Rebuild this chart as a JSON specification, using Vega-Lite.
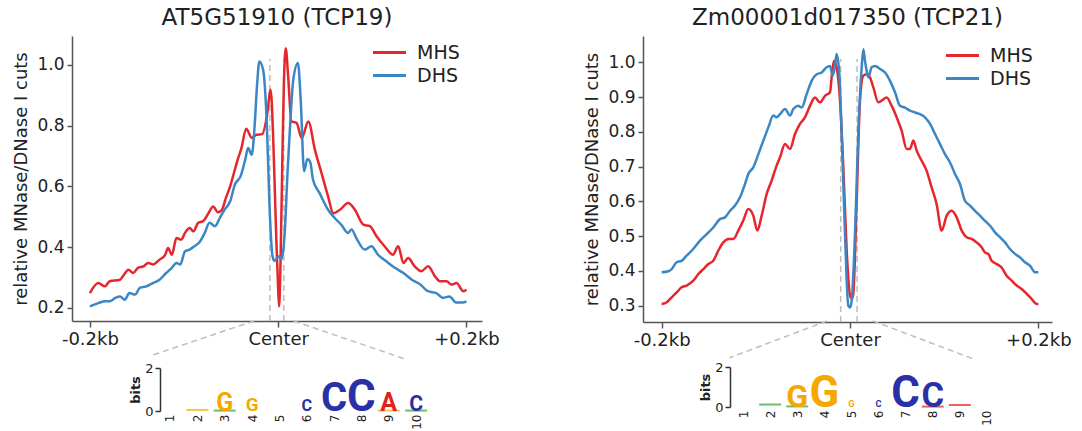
{
 "$schema": "https://vega.github.io/schema/vega-lite/v6.json",
 "background": "white",
 "padding": {"left": 12, "top": 7, "right": 5, "bottom": 0},
 "config": {
  "view": {"stroke": null},
  "font": "DejaVu Sans",
  "axis": {"grid": false, "domainColor": "#555", "domainWidth": 1.5, "tickColor": "#555", "tickWidth": 1.5, "labelColor": "#222", "titleColor": "#222", "titleFontWeight": "normal", "labelFont": "DejaVu Sans", "titleFont": "DejaVu Sans", "labelFlush": false, "labelOverlap": false},
  "title": {"font": "DejaVu Sans", "fontWeight": "normal", "color": "#222"},
  "legend": {"labelFont": "DejaVu Sans", "labelColor": "#222"}
 },
 "datasets": {
  "tcp19": [
   {"x": -200, "v": 0.249, "s": "MHS"}, {"x": -191, "v": 0.282, "s": "MHS"}, {"x": -184, "v": 0.271, "s": "MHS"}, {"x": -179, "v": 0.288, "s": "MHS"}, {"x": -168, "v": 0.293, "s": "MHS"}, {"x": -165, "v": 0.304, "s": "MHS"}, {"x": -159, "v": 0.326, "s": "MHS"}, {"x": -154, "v": 0.315, "s": "MHS"}, {"x": -149, "v": 0.332, "s": "MHS"}, {"x": -143, "v": 0.337, "s": "MHS"}, {"x": -138, "v": 0.348, "s": "MHS"}, {"x": -133, "v": 0.343, "s": "MHS"}, {"x": -126, "v": 0.359, "s": "MHS"}, {"x": -120, "v": 0.375, "s": "MHS"}, {"x": -117, "v": 0.397, "s": "MHS"}, {"x": -113, "v": 0.375, "s": "MHS"}, {"x": -108, "v": 0.43, "s": "MHS"}, {"x": -103, "v": 0.425, "s": "MHS"}, {"x": -99, "v": 0.447, "s": "MHS"}, {"x": -94, "v": 0.463, "s": "MHS"}, {"x": -90, "v": 0.452, "s": "MHS"}, {"x": -85, "v": 0.48, "s": "MHS"}, {"x": -80, "v": 0.485, "s": "MHS"}, {"x": -74, "v": 0.512, "s": "MHS"}, {"x": -69, "v": 0.534, "s": "MHS"}, {"x": -64, "v": 0.515, "s": "MHS"}, {"x": -60, "v": 0.522, "s": "MHS"}, {"x": -55, "v": 0.567, "s": "MHS"}, {"x": -51, "v": 0.6, "s": "MHS"}, {"x": -48, "v": 0.633, "s": "MHS"}, {"x": -43, "v": 0.688, "s": "MHS"}, {"x": -39, "v": 0.726, "s": "MHS"}, {"x": -34, "v": 0.79, "s": "MHS"}, {"x": -28, "v": 0.76, "s": "MHS"}, {"x": -23, "v": 0.77, "s": "MHS"}, {"x": -17, "v": 0.772, "s": "MHS"}, {"x": -12, "v": 0.83, "s": "MHS"}, {"x": -8, "v": 0.918, "s": "MHS"}, {"x": -5.3, "v": 0.76, "s": "MHS"}, {"x": -3.5, "v": 0.58, "s": "MHS"}, {"x": -1.8, "v": 0.41, "s": "MHS"}, {"x": 0, "v": 0.26, "s": "MHS"}, {"x": 1, "v": 0.205, "s": "MHS"}, {"x": 2.5, "v": 0.35, "s": "MHS"}, {"x": 4.5, "v": 0.7, "s": "MHS"}, {"x": 6, "v": 0.93, "s": "MHS"}, {"x": 8, "v": 1.055, "s": "MHS"}, {"x": 10.6, "v": 0.962, "s": "MHS"}, {"x": 14, "v": 0.814, "s": "MHS"}, {"x": 19.5, "v": 0.809, "s": "MHS"}, {"x": 25, "v": 0.759, "s": "MHS"}, {"x": 32, "v": 0.814, "s": "MHS"}, {"x": 39, "v": 0.721, "s": "MHS"}, {"x": 46, "v": 0.644, "s": "MHS"}, {"x": 53, "v": 0.567, "s": "MHS"}, {"x": 58.5, "v": 0.512, "s": "MHS"}, {"x": 65.6, "v": 0.523, "s": "MHS"}, {"x": 74.4, "v": 0.545, "s": "MHS"}, {"x": 81.5, "v": 0.523, "s": "MHS"}, {"x": 90.4, "v": 0.474, "s": "MHS"}, {"x": 97.4, "v": 0.469, "s": "MHS"}, {"x": 104.5, "v": 0.436, "s": "MHS"}, {"x": 113, "v": 0.403, "s": "MHS"}, {"x": 122, "v": 0.375, "s": "MHS"}, {"x": 127.5, "v": 0.403, "s": "MHS"}, {"x": 133, "v": 0.348, "s": "MHS"}, {"x": 138, "v": 0.364, "s": "MHS"}, {"x": 145, "v": 0.337, "s": "MHS"}, {"x": 152, "v": 0.321, "s": "MHS"}, {"x": 159.4, "v": 0.337, "s": "MHS"}, {"x": 166.5, "v": 0.304, "s": "MHS"}, {"x": 171.8, "v": 0.288, "s": "MHS"}, {"x": 178.9, "v": 0.288, "s": "MHS"}, {"x": 184, "v": 0.277, "s": "MHS"}, {"x": 189.5, "v": 0.282, "s": "MHS"}, {"x": 196.6, "v": 0.255, "s": "MHS"}, {"x": 200, "v": 0.26, "s": "MHS"},
   {"x": -200, "v": 0.205, "s": "DHS"}, {"x": -191, "v": 0.216, "s": "DHS"}, {"x": -184, "v": 0.222, "s": "DHS"}, {"x": -179, "v": 0.222, "s": "DHS"}, {"x": -173, "v": 0.233, "s": "DHS"}, {"x": -168, "v": 0.238, "s": "DHS"}, {"x": -163, "v": 0.227, "s": "DHS"}, {"x": -158, "v": 0.249, "s": "DHS"}, {"x": -152, "v": 0.244, "s": "DHS"}, {"x": -147, "v": 0.266, "s": "DHS"}, {"x": -140, "v": 0.271, "s": "DHS"}, {"x": -133, "v": 0.282, "s": "DHS"}, {"x": -126, "v": 0.293, "s": "DHS"}, {"x": -119, "v": 0.315, "s": "DHS"}, {"x": -113, "v": 0.332, "s": "DHS"}, {"x": -108, "v": 0.348, "s": "DHS"}, {"x": -104, "v": 0.343, "s": "DHS"}, {"x": -99, "v": 0.386, "s": "DHS"}, {"x": -94, "v": 0.392, "s": "DHS"}, {"x": -89, "v": 0.403, "s": "DHS"}, {"x": -83, "v": 0.419, "s": "DHS"}, {"x": -78, "v": 0.447, "s": "DHS"}, {"x": -73, "v": 0.48, "s": "DHS"}, {"x": -67, "v": 0.469, "s": "DHS"}, {"x": -62, "v": 0.496, "s": "DHS"}, {"x": -57, "v": 0.523, "s": "DHS"}, {"x": -51, "v": 0.551, "s": "DHS"}, {"x": -46, "v": 0.606, "s": "DHS"}, {"x": -40, "v": 0.633, "s": "DHS"}, {"x": -35, "v": 0.688, "s": "DHS"}, {"x": -32, "v": 0.726, "s": "DHS"}, {"x": -28, "v": 0.704, "s": "DHS"}, {"x": -25, "v": 0.8, "s": "DHS"}, {"x": -22.5, "v": 0.93, "s": "DHS"}, {"x": -20, "v": 1.011, "s": "DHS"}, {"x": -16, "v": 0.984, "s": "DHS"}, {"x": -12, "v": 0.8, "s": "DHS"}, {"x": -9, "v": 0.52, "s": "DHS"}, {"x": -6, "v": 0.37, "s": "DHS"}, {"x": -4, "v": 0.355, "s": "DHS"}, {"x": -1, "v": 0.365, "s": "DHS"}, {"x": 1, "v": 0.37, "s": "DHS"}, {"x": 3, "v": 0.36, "s": "DHS"}, {"x": 5, "v": 0.38, "s": "DHS"}, {"x": 7, "v": 0.45, "s": "DHS"}, {"x": 10, "v": 0.65, "s": "DHS"}, {"x": 12.5, "v": 0.79, "s": "DHS"}, {"x": 16, "v": 0.95, "s": "DHS"}, {"x": 21, "v": 1.006, "s": "DHS"}, {"x": 24, "v": 0.88, "s": "DHS"}, {"x": 27.5, "v": 0.65, "s": "DHS"}, {"x": 31, "v": 0.69, "s": "DHS"}, {"x": 34, "v": 0.68, "s": "DHS"}, {"x": 37, "v": 0.622, "s": "DHS"}, {"x": 44, "v": 0.578, "s": "DHS"}, {"x": 53, "v": 0.523, "s": "DHS"}, {"x": 60, "v": 0.496, "s": "DHS"}, {"x": 67, "v": 0.474, "s": "DHS"}, {"x": 74, "v": 0.447, "s": "DHS"}, {"x": 78, "v": 0.458, "s": "DHS"}, {"x": 83, "v": 0.43, "s": "DHS"}, {"x": 92, "v": 0.392, "s": "DHS"}, {"x": 99, "v": 0.403, "s": "DHS"}, {"x": 106, "v": 0.375, "s": "DHS"}, {"x": 115, "v": 0.353, "s": "DHS"}, {"x": 124, "v": 0.332, "s": "DHS"}, {"x": 133, "v": 0.315, "s": "DHS"}, {"x": 142, "v": 0.293, "s": "DHS"}, {"x": 151, "v": 0.277, "s": "DHS"}, {"x": 159, "v": 0.255, "s": "DHS"}, {"x": 168, "v": 0.249, "s": "DHS"}, {"x": 175, "v": 0.233, "s": "DHS"}, {"x": 182, "v": 0.238, "s": "DHS"}, {"x": 189, "v": 0.218, "s": "DHS"}, {"x": 196, "v": 0.218, "s": "DHS"}, {"x": 200, "v": 0.222, "s": "DHS"}
  ],
  "tcp21": [
   {"x": -200, "v": 0.305, "s": "MHS"}, {"x": -194.6, "v": 0.31, "s": "MHS"}, {"x": -189.4, "v": 0.324, "s": "MHS"}, {"x": -184.1, "v": 0.338, "s": "MHS"}, {"x": -178.8, "v": 0.353, "s": "MHS"}, {"x": -173.5, "v": 0.358, "s": "MHS"}, {"x": -166.4, "v": 0.372, "s": "MHS"}, {"x": -161, "v": 0.391, "s": "MHS"}, {"x": -155.7, "v": 0.405, "s": "MHS"}, {"x": -150.4, "v": 0.42, "s": "MHS"}, {"x": -145.2, "v": 0.429, "s": "MHS"}, {"x": -139.9, "v": 0.458, "s": "MHS"}, {"x": -134.5, "v": 0.482, "s": "MHS"}, {"x": -129.2, "v": 0.492, "s": "MHS"}, {"x": -123.9, "v": 0.492, "s": "MHS"}, {"x": -118.6, "v": 0.516, "s": "MHS"}, {"x": -113.3, "v": 0.545, "s": "MHS"}, {"x": -108, "v": 0.578, "s": "MHS"}, {"x": -102.7, "v": 0.559, "s": "MHS"}, {"x": -98.4, "v": 0.516, "s": "MHS"}, {"x": -93.8, "v": 0.559, "s": "MHS"}, {"x": -88.5, "v": 0.621, "s": "MHS"}, {"x": -83.2, "v": 0.66, "s": "MHS"}, {"x": -77.9, "v": 0.703, "s": "MHS"}, {"x": -74.3, "v": 0.727, "s": "MHS"}, {"x": -69, "v": 0.765, "s": "MHS"}, {"x": -63.7, "v": 0.751, "s": "MHS"}, {"x": -58.4, "v": 0.794, "s": "MHS"}, {"x": -53.1, "v": 0.823, "s": "MHS"}, {"x": -47.8, "v": 0.842, "s": "MHS"}, {"x": -42.5, "v": 0.875, "s": "MHS"}, {"x": -37.2, "v": 0.899, "s": "MHS"}, {"x": -31.9, "v": 0.885, "s": "MHS"}, {"x": -26.5, "v": 0.904, "s": "MHS"}, {"x": -21.2, "v": 0.914, "s": "MHS"}, {"x": -19.5, "v": 0.957, "s": "MHS"}, {"x": -17, "v": 1.005, "s": "MHS"}, {"x": -14.2, "v": 0.986, "s": "MHS"}, {"x": -10.6, "v": 0.89, "s": "MHS"}, {"x": -7.1, "v": 0.698, "s": "MHS"}, {"x": -3.5, "v": 0.458, "s": "MHS"}, {"x": 0, "v": 0.33, "s": "MHS"}, {"x": 2, "v": 0.32, "s": "MHS"}, {"x": 3.5, "v": 0.334, "s": "MHS"}, {"x": 7.1, "v": 0.602, "s": "MHS"}, {"x": 10.6, "v": 0.89, "s": "MHS"}, {"x": 14.2, "v": 0.962, "s": "MHS"}, {"x": 17.7, "v": 0.966, "s": "MHS"}, {"x": 21.2, "v": 0.957, "s": "MHS"}, {"x": 24.8, "v": 0.928, "s": "MHS"}, {"x": 30.1, "v": 0.885, "s": "MHS"}, {"x": 33.6, "v": 0.89, "s": "MHS"}, {"x": 38.9, "v": 0.899, "s": "MHS"}, {"x": 44.3, "v": 0.875, "s": "MHS"}, {"x": 49.6, "v": 0.842, "s": "MHS"}, {"x": 54.9, "v": 0.803, "s": "MHS"}, {"x": 60.2, "v": 0.751, "s": "MHS"}, {"x": 63.7, "v": 0.751, "s": "MHS"}, {"x": 67.3, "v": 0.775, "s": "MHS"}, {"x": 70.8, "v": 0.746, "s": "MHS"}, {"x": 76.1, "v": 0.717, "s": "MHS"}, {"x": 81.4, "v": 0.688, "s": "MHS"}, {"x": 86.7, "v": 0.64, "s": "MHS"}, {"x": 92, "v": 0.592, "s": "MHS"}, {"x": 97.3, "v": 0.516, "s": "MHS"}, {"x": 102.7, "v": 0.559, "s": "MHS"}, {"x": 108, "v": 0.573, "s": "MHS"}, {"x": 113.3, "v": 0.554, "s": "MHS"}, {"x": 118.6, "v": 0.516, "s": "MHS"}, {"x": 123.9, "v": 0.497, "s": "MHS"}, {"x": 129.2, "v": 0.492, "s": "MHS"}, {"x": 134.5, "v": 0.482, "s": "MHS"}, {"x": 139.8, "v": 0.468, "s": "MHS"}, {"x": 143.4, "v": 0.453, "s": "MHS"}, {"x": 146.9, "v": 0.449, "s": "MHS"}, {"x": 150.4, "v": 0.429, "s": "MHS"}, {"x": 155.7, "v": 0.42, "s": "MHS"}, {"x": 161, "v": 0.41, "s": "MHS"}, {"x": 166.4, "v": 0.386, "s": "MHS"}, {"x": 171.7, "v": 0.372, "s": "MHS"}, {"x": 177, "v": 0.358, "s": "MHS"}, {"x": 182.3, "v": 0.348, "s": "MHS"}, {"x": 187.6, "v": 0.334, "s": "MHS"}, {"x": 192.9, "v": 0.319, "s": "MHS"}, {"x": 198.2, "v": 0.305, "s": "MHS"}, {"x": 200, "v": 0.305, "s": "MHS"},
   {"x": -200, "v": 0.396, "s": "DHS"}, {"x": -192.9, "v": 0.399, "s": "DHS"}, {"x": -189.4, "v": 0.405, "s": "DHS"}, {"x": -184.1, "v": 0.425, "s": "DHS"}, {"x": -178.8, "v": 0.429, "s": "DHS"}, {"x": -173.5, "v": 0.444, "s": "DHS"}, {"x": -166.4, "v": 0.463, "s": "DHS"}, {"x": -159.3, "v": 0.487, "s": "DHS"}, {"x": -152.2, "v": 0.506, "s": "DHS"}, {"x": -145.2, "v": 0.525, "s": "DHS"}, {"x": -138.1, "v": 0.549, "s": "DHS"}, {"x": -132.8, "v": 0.554, "s": "DHS"}, {"x": -127.4, "v": 0.573, "s": "DHS"}, {"x": -122.1, "v": 0.588, "s": "DHS"}, {"x": -116.8, "v": 0.612, "s": "DHS"}, {"x": -111.5, "v": 0.65, "s": "DHS"}, {"x": -108, "v": 0.679, "s": "DHS"}, {"x": -102.7, "v": 0.698, "s": "DHS"}, {"x": -97.3, "v": 0.736, "s": "DHS"}, {"x": -92, "v": 0.775, "s": "DHS"}, {"x": -86.7, "v": 0.813, "s": "DHS"}, {"x": -81.4, "v": 0.847, "s": "DHS"}, {"x": -77.9, "v": 0.842, "s": "DHS"}, {"x": -74.3, "v": 0.851, "s": "DHS"}, {"x": -69, "v": 0.866, "s": "DHS"}, {"x": -63.7, "v": 0.847, "s": "DHS"}, {"x": -60.2, "v": 0.866, "s": "DHS"}, {"x": -54.9, "v": 0.875, "s": "DHS"}, {"x": -51.3, "v": 0.87, "s": "DHS"}, {"x": -46, "v": 0.909, "s": "DHS"}, {"x": -40.7, "v": 0.947, "s": "DHS"}, {"x": -35.4, "v": 0.966, "s": "DHS"}, {"x": -30.1, "v": 0.971, "s": "DHS"}, {"x": -24.8, "v": 0.986, "s": "DHS"}, {"x": -21.2, "v": 0.99, "s": "DHS"}, {"x": -18.4, "v": 0.962, "s": "DHS"}, {"x": -15.9, "v": 0.99, "s": "DHS"}, {"x": -14.2, "v": 1.024, "s": "DHS"}, {"x": -11.3, "v": 0.966, "s": "DHS"}, {"x": -8.8, "v": 0.794, "s": "DHS"}, {"x": -5.3, "v": 0.506, "s": "DHS"}, {"x": -1.8, "v": 0.3, "s": "DHS"}, {"x": 0, "v": 0.295, "s": "DHS"}, {"x": 1.8, "v": 0.314, "s": "DHS"}, {"x": 5.3, "v": 0.506, "s": "DHS"}, {"x": 8.8, "v": 0.794, "s": "DHS"}, {"x": 12.4, "v": 0.986, "s": "DHS"}, {"x": 14.2, "v": 1.038, "s": "DHS"}, {"x": 15.9, "v": 1.005, "s": "DHS"}, {"x": 17.7, "v": 0.976, "s": "DHS"}, {"x": 19.5, "v": 0.957, "s": "DHS"}, {"x": 23, "v": 0.986, "s": "DHS"}, {"x": 26.6, "v": 0.99, "s": "DHS"}, {"x": 31.9, "v": 0.981, "s": "DHS"}, {"x": 37.2, "v": 0.971, "s": "DHS"}, {"x": 42.5, "v": 0.947, "s": "DHS"}, {"x": 47.8, "v": 0.914, "s": "DHS"}, {"x": 53.1, "v": 0.875, "s": "DHS"}, {"x": 58.4, "v": 0.87, "s": "DHS"}, {"x": 63.7, "v": 0.861, "s": "DHS"}, {"x": 69, "v": 0.856, "s": "DHS"}, {"x": 74.3, "v": 0.851, "s": "DHS"}, {"x": 79.6, "v": 0.842, "s": "DHS"}, {"x": 85, "v": 0.823, "s": "DHS"}, {"x": 90.3, "v": 0.794, "s": "DHS"}, {"x": 95.6, "v": 0.765, "s": "DHS"}, {"x": 100.9, "v": 0.736, "s": "DHS"}, {"x": 106.2, "v": 0.712, "s": "DHS"}, {"x": 111.5, "v": 0.679, "s": "DHS"}, {"x": 116.8, "v": 0.65, "s": "DHS"}, {"x": 122.1, "v": 0.602, "s": "DHS"}, {"x": 127.4, "v": 0.588, "s": "DHS"}, {"x": 132.7, "v": 0.573, "s": "DHS"}, {"x": 138, "v": 0.559, "s": "DHS"}, {"x": 143.4, "v": 0.544, "s": "DHS"}, {"x": 148.7, "v": 0.53, "s": "DHS"}, {"x": 154, "v": 0.511, "s": "DHS"}, {"x": 159.3, "v": 0.497, "s": "DHS"}, {"x": 164.6, "v": 0.482, "s": "DHS"}, {"x": 169.9, "v": 0.463, "s": "DHS"}, {"x": 175.2, "v": 0.449, "s": "DHS"}, {"x": 180.5, "v": 0.439, "s": "DHS"}, {"x": 185.8, "v": 0.425, "s": "DHS"}, {"x": 191.1, "v": 0.415, "s": "DHS"}, {"x": 196.5, "v": 0.396, "s": "DHS"}, {"x": 200, "v": 0.396, "s": "DHS"}
  ],
  "guides19": [
   {"x": -8.8, "v": 0.157, "x2": -8.8, "v2": 1.02},
   {"x": 6, "v": 0.157, "x2": 6, "v2": 1.02},
   {"x": -25.8, "v": 0.157, "x2": -136, "v2": 0.042},
   {"x": 16.7, "v": 0.157, "x2": 134.6, "v2": 0.032}
  ],
  "guides21": [
   {"x": -9.9, "v": 0.253, "x2": -9.9, "v2": 1.01},
   {"x": 7.5, "v": 0.253, "x2": 7.5, "v2": 1.01},
   {"x": -24.4, "v": 0.256, "x2": -128, "v2": 0.15},
   {"x": 24.4, "v": 0.256, "x2": 130.6, "v2": 0.147}
  ],
  "logo19": [
   {"pos": 3, "letter": "G", "y0": 0, "bits": 1.0}, {"pos": 4, "letter": "G", "y0": 0, "bits": 0.75}, {"pos": 6, "letter": "C", "y0": 0, "bits": 0.65}, {"pos": 7, "letter": "C", "y0": 0, "bits": 1.6}, {"pos": 8, "letter": "C", "y0": 0, "bits": 1.75}, {"pos": 9, "letter": "A", "y0": 0, "bits": 1.0}, {"pos": 10, "letter": "C", "y0": 0, "bits": 0.85}
  ],
  "logo19tiny": [
   {"pos": 2, "letter": "G", "bits": 0.05}, {"pos": 3, "letter": "T", "bits": 0.02}, {"pos": 9, "letter": "G", "bits": 0.02}, {"pos": 10, "letter": "T", "bits": 0.02}
  ],
  "logo21": [
   {"pos": 3, "letter": "G", "y0": 0, "bits": 1.4}, {"pos": 4, "letter": "G", "y0": 0, "bits": 1.9}, {"pos": 5, "letter": "G", "y0": 0, "bits": 0.4}, {"pos": 6, "letter": "C", "y0": 0, "bits": 0.4}, {"pos": 7, "letter": "C", "y0": 0, "bits": 1.9}, {"pos": 8, "letter": "C", "y0": 0, "bits": 1.5}
  ],
  "logo21tiny": [
   {"pos": 2, "letter": "T", "bits": 0.12}, {"pos": 3, "letter": "T", "bits": 0.03}, {"pos": 8, "letter": "A", "bits": 0.02}, {"pos": 9, "letter": "A", "bits": 0.1}
  ]
 },
 "hconcat": [
  {
   "vconcat": [
    {
     "width": 410, "height": 285,
     "title": {"text": "AT5G51910 (TCP19)", "fontSize": 23, "frame": "group", "anchor": "middle", "offset": 6},
     "layer": [
      {
       "data": {"name": "guides19"},
       "mark": {"type": "rule", "color": "#bdbdbd", "strokeDash": [6, 4], "strokeWidth": 1.5},
       "encoding": {
        "x": {"field": "x", "type": "quantitative"},
        "y": {"field": "v", "type": "quantitative"},
        "x2": {"field": "x2"},
        "y2": {"field": "v2"}
       }
      },
      {
       "data": {"name": "tcp19"},
       "mark": {"type": "line", "strokeWidth": 2.5, "interpolate": "monotone"},
       "encoding": {
        "x": {"field": "x", "type": "quantitative", "scale": {"domain": [-219, 216.5], "nice": false, "zero": false},
              "axis": {"values": [-200, 0, 200], "labelExpr": "datum.value == 0 ? 'Center' : (datum.value < 0 ? '-0.2kb' : '+0.2kb')", "title": null, "tickSize": 6, "labelFontSize": 18, "labelPadding": 3}},
        "y": {"field": "v", "type": "quantitative", "scale": {"domain": [0.157, 1.095], "nice": false, "zero": false},
              "axis": {"values": [0.2, 0.4, 0.6, 0.8, 1.0], "format": ".1f", "title": "relative MNase/DNase I cuts", "titleFontSize": 18, "labelFontSize": 17, "tickSize": 5, "labelPadding": 3, "titlePadding": 6}},
        "color": {"field": "s", "type": "nominal", "scale": {"domain": ["MHS", "DHS"], "range": ["#e5262d", "#3b86c4"]},
                  "legend": {"orient": "none", "legendX": 305, "legendY": 4, "title": null, "symbolType": "M-1.5,0H1.5", "symbolSize": 484, "symbolStrokeWidth": 3, "labelFontSize": 19, "rowPadding": 0, "labelOffset": 15, "padding": 0}}
       }
      }
     ]
    },
    {
     "width": 410, "height": 43,
     "layer": [
      {
       "data": {"name": "logo19tiny"},
       "mark": {"type": "tick", "orient": "horizontal", "size": 22, "thickness": 2},
       "encoding": {
        "x": {"field": "pos", "type": "quantitative", "scale": {"domain": [-2.583, 12.41], "nice": false, "zero": false},
              "axis": {"values": [1, 2, 3, 4, 5, 6, 7, 8, 9, 10], "labelAngle": 270, "domain": false, "ticks": false, "title": null, "labelFontSize": 12, "labelPadding": 3, "labelOverlap": false}},
        "y": {"field": "bits", "type": "quantitative", "scale": {"domain": [0, 2], "nice": false},
              "axis": {"values": [0, 1, 2], "labelExpr": "toString(datum.value)", "title": "bits", "titleFontSize": 13, "titleFontWeight": "bold", "offset": -88, "tickSize": 5, "labelFontSize": 13, "labelPadding": 2, "titlePadding": 2, "domainColor": "#333", "tickColor": "#333", "labelOverlap": false, "labelBound": false}},
        "color": {"field": "letter", "type": "nominal", "scale": {"domain": ["A", "C", "G", "T"], "range": ["#e2231a", "#2a31a6", "#f6a800", "#30a030"]}, "legend": null}
       }
      },
      {
       "data": {"name": "logo19"},
       "mark": {"type": "text", "font": "Roboto", "fontWeight": "bold", "baseline": "alphabetic", "align": "center"},
       "encoding": {
        "x": {"field": "pos", "type": "quantitative"},
        "y": {"field": "y0", "type": "quantitative"},
        "text": {"field": "letter"},
        "size": {"field": "bits", "type": "quantitative", "scale": {"domain": [0, 2], "range": [0, 50]}, "legend": null},
        "color": {"field": "letter", "type": "nominal", "legend": null}
       }
      }
     ]
    }
   ],
   "spacing": 47,
   "bounds": "flush",
   "resolve": {"scale": {"color": "independent", "size": "independent"}, "legend": {"color": "independent"}}
  },
  {
   "vconcat": [
    {
     "width": 409, "height": 286,
     "title": {"text": "Zm00001d017350 (TCP21)", "fontSize": 23, "frame": "group", "anchor": "middle", "offset": 6},
     "layer": [
      {
       "data": {"name": "guides21"},
       "mark": {"type": "rule", "color": "#bdbdbd", "strokeDash": [6, 4], "strokeWidth": 1.5},
       "encoding": {
        "x": {"field": "x", "type": "quantitative"},
        "y": {"field": "v", "type": "quantitative"},
        "x2": {"field": "x2"},
        "y2": {"field": "v2"}
       }
      },
      {
       "data": {"name": "tcp21"},
       "mark": {"type": "line", "strokeWidth": 2.5, "interpolate": "monotone"},
       "encoding": {
        "x": {"field": "x", "type": "quantitative", "scale": {"domain": [-219.8, 214.5], "nice": false, "zero": false},
              "axis": {"values": [-200, 0, 200], "labelExpr": "datum.value == 0 ? 'Center' : (datum.value < 0 ? '-0.2kb' : '+0.2kb')", "title": null, "tickSize": 6, "labelFontSize": 18, "labelPadding": 3}},
        "y": {"field": "v", "type": "quantitative", "scale": {"domain": [0.253, 1.076], "nice": false, "zero": false},
              "axis": {"values": [0.3, 0.4, 0.5, 0.6, 0.7, 0.8, 0.9, 1.0], "format": ".1f", "title": "relative MNase/DNase I cuts", "titleFontSize": 18, "labelFontSize": 17, "tickSize": 5, "labelPadding": 3, "titlePadding": 6}},
        "color": {"field": "s", "type": "nominal", "scale": {"domain": ["MHS", "DHS"], "range": ["#e5262d", "#3b86c4"]},
                  "legend": {"orient": "none", "legendX": 307, "legendY": 7, "title": null, "symbolType": "M-1.5,0H1.5", "symbolSize": 484, "symbolStrokeWidth": 3, "labelFontSize": 19, "rowPadding": 0, "labelOffset": 15, "padding": 0}}
       }
      }
     ]
    },
    {
     "width": 409, "height": 40,
     "layer": [
      {
       "data": {"name": "logo21tiny"},
       "mark": {"type": "tick", "orient": "horizontal", "size": 22, "thickness": 2},
       "encoding": {
        "x": {"field": "pos", "type": "quantitative", "scale": {"domain": [-2.69, 12.4], "nice": false, "zero": false},
              "axis": {"values": [1, 2, 3, 4, 5, 6, 7, 8, 9, 10], "labelAngle": 270, "domain": false, "ticks": false, "title": null, "labelFontSize": 12, "labelPadding": 3, "labelOverlap": false}},
        "y": {"field": "bits", "type": "quantitative", "scale": {"domain": [0, 2], "nice": false},
              "axis": {"values": [0, 1, 2], "labelExpr": "toString(datum.value)", "title": "bits", "titleFontSize": 13, "titleFontWeight": "bold", "offset": -87, "tickSize": 5, "labelFontSize": 13, "labelPadding": 2, "titlePadding": 2, "domainColor": "#333", "tickColor": "#333", "labelOverlap": false, "labelBound": false}},
        "color": {"field": "letter", "type": "nominal", "scale": {"domain": ["A", "C", "G", "T"], "range": ["#e2231a", "#2a31a6", "#f6a800", "#30a030"]}, "legend": null}
       }
      },
      {
       "data": {"name": "logo21"},
       "mark": {"type": "text", "font": "Roboto", "fontWeight": "bold", "baseline": "alphabetic", "align": "center"},
       "encoding": {
        "x": {"field": "pos", "type": "quantitative"},
        "y": {"field": "y0", "type": "quantitative"},
        "text": {"field": "letter"},
        "size": {"field": "bits", "type": "quantitative", "scale": {"domain": [0, 2], "range": [0, 46]}, "legend": null},
        "color": {"field": "letter", "type": "nominal", "legend": null}
       }
      }
     ]
    }
   ],
   "spacing": 45,
   "bounds": "flush",
   "resolve": {"scale": {"color": "independent", "size": "independent"}, "legend": {"color": "independent"}}
  }
 ],
 "spacing": 83,
 "resolve": {"scale": {"color": "independent", "size": "independent"}, "legend": {"color": "independent"}}
}
